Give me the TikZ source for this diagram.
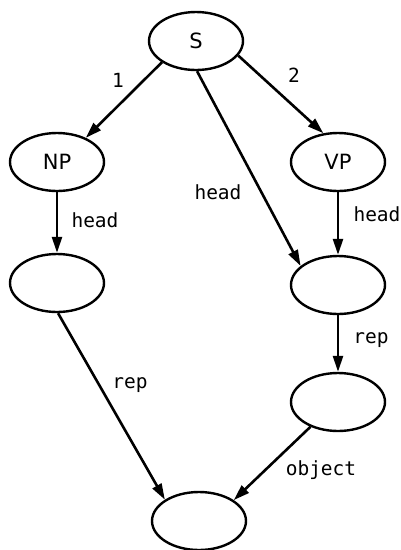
\documentclass[tikz,border=0pt]{standalone}
\usepackage{fontspec}
\setmainfont{DejaVu Sans}
\newfontfamily\labelfont{DejaVu Sans Mono}
\usetikzlibrary{arrows.meta,shapes.geometric}
\begin{document}
\begin{tikzpicture}[x=1pt,y=-1pt,
  fnode/.style={ellipse,draw,line width=2.4pt,minimum width=94pt,minimum height=58pt,
    inner sep=0pt,font=\fontsize{21}{21}\selectfont},
  arc/.style={line width=2.6pt,-{Triangle[length=16pt,width=10pt]}},
  lbl/.style={font=\labelfont\fontsize{19.5}{19.5}\selectfont,inner sep=0pt}]
\useasboundingbox (0,0) rectangle (401,550);

% feature structure nodes
\node[fnode] (S)  at (196,41)  {S};
\node[fnode] (NP) at (57,162)  {NP};
\node[fnode] (VP) at (338,162) {VP};
\node[fnode] (LE) at (57,283)  {};
\node[fnode] (RM) at (338,285) {};
\node[fnode] (RL) at (338,402) {};
\node[fnode] (B)  at (199,521) {};

% arcs
\draw[arc] (S.212.6) -- (NP.40.8);
\draw[arc] (S.341)   -- (VP.117);
\draw[arc] (S.272)   -- (RM.153);
\draw[arc] (NP.south) -- (LE.north);
\draw[arc] (VP.south) -- (RM.north);
\draw[arc] (RM.south) -- (RL.north);
\draw[arc] (LE.272)  -- (B.148.6);
\draw[arc] (RL.222)  -- (B.31.4);

% arc labels
\node[lbl] (l1)  at (118,80)  {1};
\node[lbl] (l2)  at (294,75)  {2};
\node[lbl] (h1)  at (218,192) {head};
\node[lbl] (h2)  at (95,220)  {head};
\node[lbl] (h3)  at (377,214) {head};
\node[lbl] (r1)  at (371,340) {rep};
\node[lbl] (r2)  at (130,385) {rep};
\node[lbl] (ob)  at (321,470) {object};
\end{tikzpicture}
\end{document}
